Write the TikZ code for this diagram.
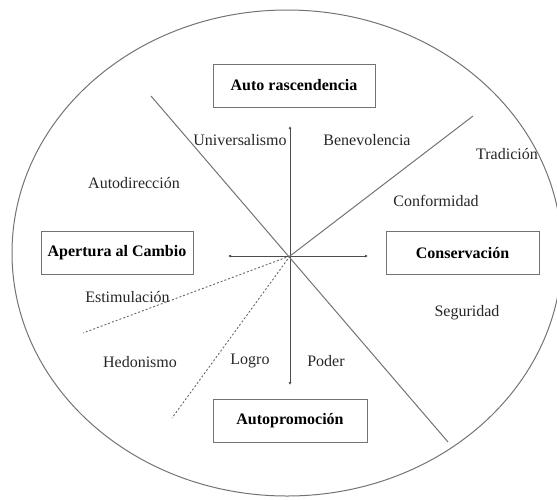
\documentclass[tikz,border=0pt]{standalone}
\usepackage{fontspec}
\setmainfont{Liberation Serif}
\usetikzlibrary{shapes,arrows,arrows.meta,positioning}
\tikzstyle{block} = [rectangle,draw=black!55,line width=1pt,fill=white,
  minimum width=153pt,minimum height=43pt,
  font=\fontsize{16}{19}\selectfont\bfseries,text=black]
\tikzstyle{value} = [text=black!85]
\tikzstyle{line} = [draw=black!55, line width=1pt]
\tikzstyle{axis} = [draw=black!70, line width=0.9pt, -{Latex[length=3pt,width=3pt]}]
\tikzstyle{dots} = [draw=black!60, line width=0.9pt, dash pattern=on 2pt off 2pt]

\begin{document}
\begin{tikzpicture}[x=1pt, y=-1pt, font=\fontsize{16}{19}\selectfont]
\useasboundingbox (0,0) rectangle (557,499);

\node [ellipse, line, minimum width=550pt, minimum height=486pt, inner sep=0pt] (rim) at (287,253) {};

\coordinate (c) at (290,256);

\node [block, minimum width=162pt] (auto_trasc) at (294,85.5) {Auto rascendencia};
\node [block, minimum width=152pt] (apertura) at (117,253) {Apertura al Cambio};
\node [block] (conservacion) at (462.5,253) {Conservación};
\node [block, minimum width=154pt] (auto_promo) at (290,421) {Autopromoción};

% ends of the two axes
\coordinate (n_end) at (290,126);
\coordinate (s_end) at (290,385);
\coordinate (w_end) at (228,256);
\coordinate (e_end) at (368,256);

\path [axis] (c) -- (n_end);
\path [axis] (c) -- (s_end);
\path [axis] (c) -- (w_end);
\path [axis] (c) -- (e_end);

% dividing lines
\coordinate (nw_end) at (151,96);
\coordinate (se_end) at (448,442);
\coordinate (ne_end) at (473,116);
\coordinate (wsw_end) at (83,333);
\coordinate (ssw_end) at (172,418);

\path [line] (nw_end) -- (se_end);
\path [line] (c) -- (ne_end);
\path [dots] (c) -- (wsw_end);
\path [dots] (c) -- (ssw_end);

\node [value] (universalismo) at (240,140) {Universalismo};
\node [value] (benevolencia) at (367,140) {Benevolencia};
\node [value] (tradicion) at (507,154) {Tradición};
\node [value] (conformidad) at (436,201) {Conformidad};
\node [value] (autodireccion) at (134,183) {Autodirección};
\node [value] (estimulacion) at (127.5,297) {Estimulación};
\node [value] (seguridad) at (467,313) {Seguridad};
\node [value] (hedonismo) at (140,362) {Hedonismo};
\node [value] (logro) at (250,361) {Logro};
\node [value] (poder) at (326,361) {Poder};

\end{tikzpicture}
\end{document}
